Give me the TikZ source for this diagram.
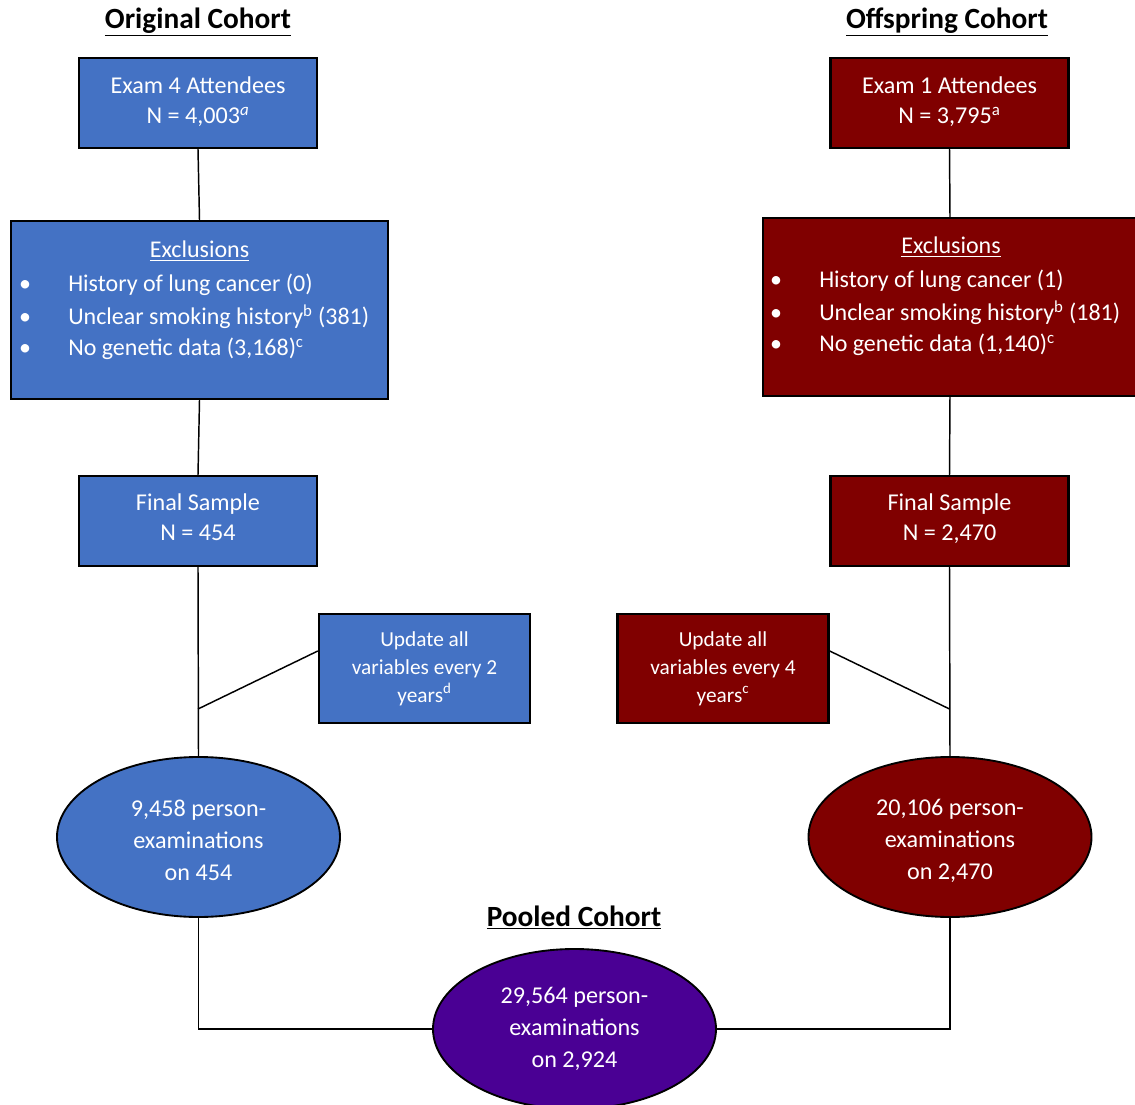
\documentclass[tikz,border=0pt]{standalone}
\usepackage{fontspec}
\setmainfont{Carlito}
\usetikzlibrary{shapes.geometric,calc}
\definecolor{cblue}{HTML}{4472C4}
\definecolor{cred}{HTML}{800000}
\definecolor{cpurple}{HTML}{4A0094}
\begin{document}
\begin{tikzpicture}[x=0.75pt,y=-0.75pt,
  box/.style={draw=black, line width=1.8pt, text=white, align=center, inner sep=0pt,
    font=\fontsize{18.1}{22.5}\selectfont},
  mainbox/.style={box, minimum width=178.5pt, minimum height=67.5pt},
  exbox/.style={box, minimum width=282.75pt, minimum height=133.5pt},
  updbox/.style={box, minimum width=158.25pt, minimum height=81.75pt,
    font=\fontsize{16}{21}\selectfont},
  oval/.style={ellipse, draw=black, line width=1.4pt, text=white, align=center, inner sep=0pt,
    minimum width=212.25pt, minimum height=120pt, font=\fontsize{18.1}{24}\selectfont},
  title/.style={font=\fontsize{22}{26}\selectfont\bfseries, inner sep=0pt},
  extext/.style={text=white, inner sep=0pt, font=\fontsize{18}{22.5}\selectfont},
  conn/.style={line width=1.1pt, draw=black}
]
\useasboundingbox (0,0) rectangle (1135,1105);

% titles
\node[title, anchor=base] (t1) at (198,28.5) {\underline{Original Cohort}};
\node[title, anchor=base] (t2) at (947,28.5) {\underline{Offspring Cohort}};
\node[title, anchor=base] (t3) at (574,926.5) {\underline{Pooled Cohort}};

% left column
\node[mainbox, fill=cblue] (e4) at (198,103) {Exam 4 Attendees\\N = 4,003\textsuperscript{\textit{a}}\\[-18.5pt]};
\node[exbox, fill=cblue] (exl) at (199.5,310) {};
\node[extext, anchor=base] (exlh) at (199.5,258) {\underline{Exclusions}};
\node[extext, anchor=base] (bl1) at (25,292) {\textbullet};
\node[extext, anchor=base] (bl2) at (25,325) {\textbullet};
\node[extext, anchor=base] (bl3) at (25,356) {\textbullet};
\node[extext, anchor=base west] (xl1) at (68,292) {History of lung cancer (0)};
\node[extext, anchor=base west] (xl2) at (68,325) {Unclear smoking history\textsuperscript{b} (381)};
\node[extext, anchor=base west] (xl3) at (68,356) {No genetic data (3,168)\textsuperscript{c}};
\node[mainbox, fill=cblue] (fl) at (198,521) {Final Sample\\N = 454\\[-16.5pt]};
\node[updbox, fill=cblue] (ul) at (424.5,668.5) {Update all\\variables every 2\\years\textsuperscript{d}};
\node[oval, fill=cblue] (ol) at (198.5,837) {\\[-6pt]9,458 person-\\examinations\\on 454};

% right column
\node[mainbox, fill=cred] (e1) at (949.5,103) {Exam 1 Attendees\\N = 3,795\textsuperscript{a}\\[-18.5pt]};
\node[exbox, fill=cred, anchor=north west] (exr) at (762,217) {};
\node[extext, anchor=base] (exrh) at (951,254) {\underline{Exclusions}};
\node[extext, anchor=base] (br1) at (776,288) {\textbullet};
\node[extext, anchor=base] (br2) at (776,321) {\textbullet};
\node[extext, anchor=base] (br3) at (776,352) {\textbullet};
\node[extext, anchor=base west] (xr1) at (819,288) {History of lung cancer (1)};
\node[extext, anchor=base west] (xr2) at (819,321) {Unclear smoking history\textsuperscript{b} (181)};
\node[extext, anchor=base west] (xr3) at (819,352) {No genetic data (1,140)\textsuperscript{c}};
\node[mainbox, fill=cred] (fr) at (949.5,521) {Final Sample\\N = 2,470\\[-16.5pt]};
\node[updbox, fill=cred] (ur) at (723,668.5) {Update all\\variables every 4\\years\textsuperscript{c}};
\node[oval, fill=cred] (orr) at (950,837) {\\[-6pt]20,106 person-\\examinations\\on 2,470};

% pooled
\node[oval, fill=cpurple] (pool) at (574.5,1029) {29,564 person-\\examinations\\on 2,924};

% connectors
\coordinate (jl) at (198,709);
\coordinate (jr) at (949.5,709);
\draw[conn] (e4.south) -- (exl.north);
\draw[conn] (exl.south) -- (fl.north);
\draw[conn] (fl.south) -- (ol.north);
\draw[conn] ($(ul.west)+(0,-17.5)$) -- (jl);
\draw[conn] (e1.south) -- (950,217);
\draw[conn] (950,395) -- (fr.north);
\draw[conn] (fr.south) -- (orr.north);
\draw[conn] ($(ur.east)+(0,-17.5)$) -- (jr);
\draw[conn] (ol.south) |- (pool.west);
\draw[conn] (orr.south) |- (pool.east);
\end{tikzpicture}
\end{document}
